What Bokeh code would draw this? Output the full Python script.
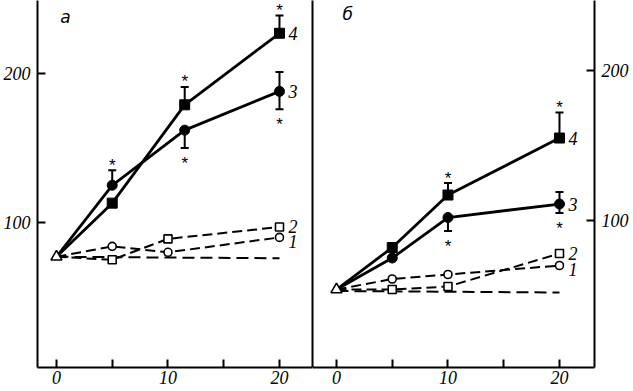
from bokeh.plotting import figure
from bokeh.layouts import row
from bokeh.models import (LinearAxis, FixedTicker, Range1d, Whisker, TeeHead,
                          ColumnDataSource)
from bokeh.core.properties import value
from bokeh.embed import file_html
from bokeh.resources import INLINE

# ---------------- data ----------------
x_ticks = [0, 5, 10, 15, 20]
x_tick_labels = {0: "0", 5: "", 10: "10", 15: "", 20: "20"}
y_ticks = [100, 200]

# panel "а"
a_x_solid = [0, 5, 11.5, 20]
a_x_dash = [0, 5, 10, 20]
a_x_ctrl = [0, 20]
a1 = [77, 84, 80, 90]          # open circles, dashed
a2 = [77, 75, 89, 97]          # open squares, dashed
a3 = [77, 125, 162, 188]       # filled circles, solid
a3_hi = [77, 135, 162, 201]
a3_lo = [77, 125, 150, 176]
a4 = [77, 113, 179, 227]       # filled squares, solid
a4_hi = [77, 113, 191, 239]
a4_lo = [77, 113, 179, 227]
a_ctrl = [77, 76]
a_star_up_x = [5, 11.5, 20]
a_star_up_y = [135, 191, 239]
a_star_dn_x = [11.5, 20]
a_star_dn_y = [150, 176]

# panel "б"
b_x = [0, 5, 10, 20]
b_x_ctrl = [0, 20]
b1 = [54, 61, 64, 70]
b2 = [54, 54, 56, 78]
b3 = [54, 75, 102, 111]
b3_hi = [54, 75, 102, 119]
b3_lo = [54, 75, 93, 105]
b4 = [54, 82, 117, 155]
b4_hi = [54, 82, 125, 172]
b4_lo = [54, 82, 117, 155]
b_ctrl = [53, 52]
b_star_up_x = [10, 20]
b_star_up_y = [125, 172]
b_star_dn_x = [10, 20]
b_star_dn_y = [93, 105]

FONT = "Liberation Sans Narrow"


def make_fig(xr, yr, side, fw, left_b, right_b):
    p = figure(frame_width=fw, frame_height=367, x_range=Range1d(*xr),
               y_range=Range1d(*yr), output_backend="svg", toolbar_location=None,
               x_axis_location=None, y_axis_location=None,
               min_border_left=left_b, min_border_right=right_b,
               min_border_top=0, min_border_bottom=0)
    p.grid.visible = False
    p.outline_line_color = None
    p.background_fill_color = "white"
    p.border_fill_color = "white"
    xa = LinearAxis(ticker=FixedTicker(ticks=x_ticks),
                    major_label_overrides=x_tick_labels)
    ya = LinearAxis(ticker=FixedTicker(ticks=y_ticks))
    for ax in (xa, ya):
        ax.axis_line_width = 2
        ax.major_tick_line_width = 2
        ax.major_tick_in = 8
        ax.major_tick_out = 0
        ax.minor_tick_line_color = None
        ax.major_label_text_font = FONT
        ax.major_label_text_font_style = "italic"
        ax.major_label_text_font_size = "18px"
        ax.major_label_text_color = "black"
    xa.major_label_standoff = 3
    ya.major_label_standoff = 7
    p.add_layout(xa, "below")
    p.add_layout(ya, side)
    return p


def add_sep(p, side):
    ax = LinearAxis(ticker=FixedTicker(ticks=[]), major_label_text_font_size="0px",
                    major_tick_in=0, major_tick_out=0, major_label_standoff=0,
                    axis_line_width=2, minor_tick_line_color=None)
    p.add_layout(ax, side)


def draw(p, xs, xd, xc, c1, c2, c3, c3h, c3l, c4, c4h, c4l, ctrl,
         sux, suy, sdx, sdy, letter, lx, ly):
    dash = "10 5"
    p.line(xc, ctrl, line_color="black", line_width=2, line_dash="12 6")
    p.line(xd, c1, line_color="black", line_width=2, line_dash=dash)
    p.line(xd, c2, line_color="black", line_width=2, line_dash=dash)
    p.line(xs, c3, line_color="black", line_width=2.8)
    p.line(xs, c4, line_color="black", line_width=2.8)
    p.scatter(xd[1:], c1[1:], marker="circle", size=8, line_color="black",
              fill_color="white", line_width=1.6)
    p.scatter(xd[1:], c2[1:], marker="square", size=8, line_color="black",
              fill_color="white", line_width=1.6)
    p.scatter(xs[1:], c3[1:], marker="circle", size=10, color="black")
    p.scatter(xs[1:], c4[1:], marker="square", size=10, color="black")
    p.scatter([xd[0]], [c1[0]], marker="triangle", size=11, line_color="black",
              fill_color="white", line_width=1.6)
    for ys, hi, lo in ((c3, c3h, c3l), (c4, c4h, c4l)):
        idx = [i for i in range(len(ys)) if hi[i] != ys[i] or lo[i] != ys[i]]
        src = ColumnDataSource(dict(x=[xs[i] for i in idx],
                                    hi=[hi[i] for i in idx],
                                    lo=[lo[i] for i in idx]))
        w = Whisker(source=src, base="x", upper="hi", lower="lo",
                    dimension="height", line_width=2, line_color="black",
                    upper_head=TeeHead(size=8, line_width=2, line_color="black"),
                    lower_head=TeeHead(size=8, line_width=2, line_color="black"))
        p.add_layout(w)
    p.text(sux, suy, text=["*"] * len(sux), text_align="center",
           text_baseline="middle", y_offset=-5, text_font=value("Liberation Sans"),
           text_font_size="17px", text_color="black")
    p.text(sdx, sdy, text=["*"] * len(sdx), text_align="center",
           text_baseline="middle", y_offset=15, text_font=value("Liberation Sans"),
           text_font_size="17px", text_color="black")
    lab_x = [xs[-1], xs[-1], xd[-1], xd[-1]]
    lab_y = [c4[-1], c3[-1], c2[-1], c1[-1]]
    p.text(lab_x, lab_y, text=["4", "3", "2", "1"], x_offset=[9, 9, 9, 9],
           y_offset=[0, 0, 0, 4],
           text_align="left", text_baseline="middle", text_font=value(FONT),
           text_font_style="italic", text_font_size="18px", text_color="black")
    p.text([lx], [ly], text=[letter], text_align="center", text_baseline="middle",
           text_font=value("DejaVu Sans"), text_font_style="italic",
           text_font_size="17px", text_color="black")


p1 = make_fig((-1.7, 22.96), (2.7, 249.0), "left", 275, 35, 0)
add_sep(p1, "right")
draw(p1, a_x_solid, a_x_dash, a_x_ctrl, a1, a2, a3, a3_hi, a3_lo, a4, a4_hi, a4_lo,
     a_ctrl, a_star_up_x, a_star_up_y, a_star_dn_x, a_star_dn_y, "а", 0.8, 238)

p2 = make_fig((-2.15, 23.14), (2.0, 246.7), "right", 282, 0, 41)
add_sep(p2, "left")
draw(p2, b_x, b_x, b_x_ctrl, b1, b2, b3, b3_hi, b3_lo, b4, b4_hi, b4_lo,
     b_ctrl, b_star_up_x, b_star_up_y, b_star_dn_x, b_star_dn_y, "б", 1.0, 238)

layout = row(p1, p2)
open("out.html", "w").write(file_html(layout, INLINE))
